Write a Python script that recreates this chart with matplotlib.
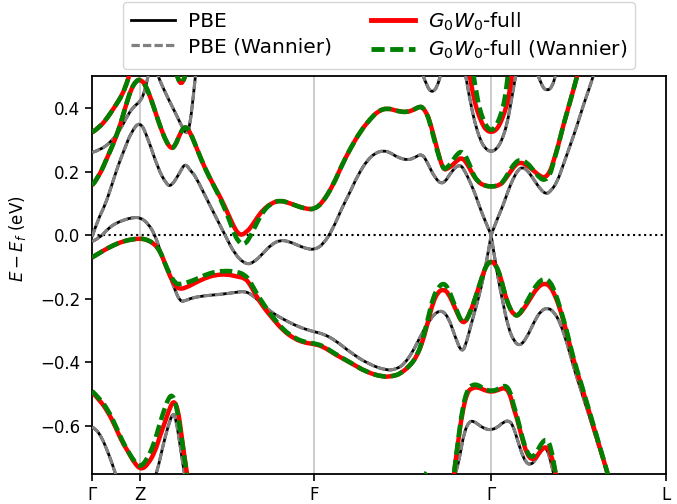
import numpy as np
import matplotlib
matplotlib.use('Agg')
import matplotlib.pyplot as plt
from matplotlib.path import Path
from matplotlib.patches import PathPatch
from matplotlib.lines import Line2D

# high symmetry points along the path (path length, arbitrary units)
kpt_pos = [0, 48, 222, 399, 574]
kpt_labels = [r'$\Gamma$', 'Z', 'F', r'$\Gamma$', 'L']

# ---------------- PBE bands (eV) ----------------
k_pbe_v1 = [0, 8, 16, 24, 33, 40, 48, 56, 63, 69, 76, 82, 88, 94, 100, 113, 129, 143, 153, 160, 168, 178, 191,
            206, 222, 231, 243, 258, 276, 295, 305, 312, 320, 328, 338, 348, 356, 363, 370, 375, 379, 384, 389,
            394, 399, 399, 405, 410, 416, 422, 428, 435, 442, 449, 456, 462, 468, 475, 481, 489, 498, 506, 515, 520]
e_pbe_v1 = [-0.02, -0.008, 0.021, 0.038, 0.049, 0.055, 0.056, 0.037, 0.0, -0.057, -0.114, -0.165, -0.21, -0.205,
            -0.197, -0.19, -0.186, -0.18, -0.176, -0.188, -0.21, -0.24, -0.264, -0.288, -0.304, -0.31, -0.33,
            -0.368, -0.405, -0.426, -0.42, -0.405, -0.37, -0.32, -0.262, -0.233, -0.255, -0.32, -0.373, -0.33,
            -0.28, -0.225, -0.165, -0.09, 0.0, 0.0, -0.12, -0.2, -0.29, -0.335, -0.349, -0.32, -0.272, -0.236,
            -0.228, -0.242, -0.275, -0.34, -0.41, -0.49, -0.577, -0.66, -0.744, -0.8]

k_pbe_c1 = [0, 6, 13, 20, 26, 33, 39, 48, 56, 66, 74, 79, 88, 93, 99, 103, 116, 133, 143, 154, 162, 171, 179, 188,
            197, 205, 214, 222, 231, 241, 249, 258, 266, 275, 283, 291, 298, 305, 316, 323, 330, 335, 343, 351,
            360, 368, 373, 378, 383, 388, 393, 399, 399, 405, 411, 416, 421, 426, 430, 435, 441, 448, 454, 459,
            465, 471, 478, 485, 491, 497, 502]
e_pbe_c1 = [-0.005, 0.05, 0.094, 0.16, 0.219, 0.275, 0.323, 0.36, 0.303, 0.209, 0.162, 0.152, 0.198, 0.227, 0.2,
            0.188, 0.105, 0.0, -0.062, -0.093, -0.085, -0.057, -0.03, -0.015, -0.02, -0.031, -0.042, -0.046,
            -0.03, 0.021, 0.08, 0.136, 0.19, 0.235, 0.258, 0.266, 0.26, 0.245, 0.235, 0.245, 0.256, 0.23, 0.178,
            0.157, 0.204, 0.224, 0.2, 0.167, 0.13, 0.084, 0.045, 0.0, 0.0, 0.05, 0.094, 0.14, 0.178, 0.205, 0.214,
            0.205, 0.178, 0.145, 0.128, 0.14, 0.167, 0.22, 0.282, 0.345, 0.407, 0.46, 0.51]

k_pbe_c2 = [0, 8, 18, 28, 36, 42, 48, 52, 56, 58]
e_pbe_c2 = [0.26, 0.268, 0.29, 0.33, 0.38, 0.405, 0.42, 0.445, 0.5, 0.53]

k_pbe_c3 = [64, 66, 70, 76, 84, 90, 95, 98, 101, 104]
e_pbe_c3 = [0.52, 0.5, 0.47, 0.43, 0.38, 0.34, 0.315, 0.35, 0.43, 0.52]

k_pbe_u1 = [330, 335, 340, 345, 349]
e_pbe_u1 = [0.51, 0.465, 0.448, 0.465, 0.51]
k_pbe_u2 = [445, 450, 455, 460, 464]
e_pbe_u2 = [0.51, 0.465, 0.454, 0.465, 0.51]

k_pbe_g = [373, 378, 383, 388, 393, 399, 405, 410, 415, 419, 424]
e_pbe_g = [0.51, 0.42, 0.35, 0.3, 0.272, 0.261, 0.272, 0.3, 0.35, 0.42, 0.51]

k_pbe_l1 = [0, 4, 9, 13, 18, 23, 26]
e_pbe_l1 = [-0.603, -0.61, -0.633, -0.66, -0.7, -0.745, -0.78]
k_pbe_l2 = [61, 65, 71, 76, 81, 84, 88, 92, 94]
e_pbe_l2 = [-0.78, -0.745, -0.66, -0.6, -0.556, -0.58, -0.66, -0.745, -0.78]
k_pbe_l3 = [360, 364, 368, 372, 377, 382, 388, 394, 399, 405, 411, 417, 421, 425, 430, 434, 438, 443, 448, 453,
            457, 461, 464]
e_pbe_l3 = [-0.78, -0.745, -0.69, -0.62, -0.585, -0.585, -0.6, -0.61, -0.612, -0.605, -0.588, -0.582, -0.6,
            -0.64, -0.69, -0.715, -0.722, -0.71, -0.68, -0.665, -0.69, -0.745, -0.78]

# ---------------- G0W0 bands (eV) ----------------
k_gw_v1 = [0, 8, 16, 26, 36, 48, 56, 63, 68, 73, 78, 83, 87, 94, 103, 113, 123, 135, 145, 153, 158, 163, 171, 180,
           191, 202, 212, 222, 231, 243, 258, 274, 291, 301, 308, 318, 325, 331, 336, 341, 346, 351, 356, 363,
           371, 378, 385, 391, 395, 399, 403, 408, 413, 418, 422, 426, 432, 438, 445, 452, 458, 463, 468, 475,
           481, 489, 498, 506, 515, 520]
e_gw_v1 = [-0.07, -0.055, -0.04, -0.025, -0.015, -0.01, -0.015, -0.03, -0.05, -0.09, -0.13, -0.158, -0.17, -0.165,
           -0.15, -0.135, -0.125, -0.123, -0.13, -0.135, -0.155, -0.185, -0.225, -0.26, -0.3, -0.325, -0.338,
           -0.342, -0.35, -0.375, -0.4, -0.43, -0.446, -0.443, -0.436, -0.41, -0.379, -0.33, -0.27, -0.21,
           -0.178, -0.17, -0.18, -0.23, -0.285, -0.245, -0.18, -0.12, -0.09, -0.082, -0.09, -0.125, -0.19,
           -0.233, -0.25, -0.254, -0.23, -0.2, -0.165, -0.15, -0.16, -0.19, -0.233, -0.31, -0.389, -0.47,
           -0.566, -0.65, -0.744, -0.8]
e_gw_v1_wan = [-0.07, -0.055, -0.04, -0.025, -0.015, -0.01, -0.015, -0.03, -0.05, -0.09, -0.125, -0.15, -0.155,
               -0.15, -0.14, -0.125, -0.115, -0.112, -0.115, -0.125, -0.145, -0.175, -0.215, -0.255, -0.297,
               -0.322, -0.336, -0.34, -0.348, -0.373, -0.4, -0.43, -0.446, -0.443, -0.436, -0.41, -0.379, -0.325,
               -0.26, -0.195, -0.165, -0.15, -0.165, -0.225, -0.285, -0.245, -0.18, -0.12, -0.09, -0.082, -0.09,
               -0.125, -0.19, -0.233, -0.25, -0.254, -0.225, -0.19, -0.152, -0.135, -0.145, -0.18, -0.228, -0.305,
               -0.385, -0.466, -0.562, -0.647, -0.744, -0.8]

k_gw_c1 = [0, 6, 16, 23, 29, 34, 39, 44, 48, 53, 59, 64, 69, 74, 79, 83, 88, 93, 98, 105, 113, 121, 129, 137,
           142, 146, 150, 154, 158, 165, 171, 179, 188, 198, 208, 216, 222, 230, 241, 249, 258, 268, 278, 286,
           295, 305, 315, 322, 328, 331, 335, 338, 345, 351, 356, 360, 365, 370, 376, 381, 386, 391, 399, 408,
           413, 418, 423, 428, 435, 441, 448, 453, 458, 461, 466, 471, 478, 485, 488]
e_gw_c1 = [0.157, 0.178, 0.25, 0.3, 0.355, 0.41, 0.459, 0.485, 0.49, 0.475, 0.428, 0.38, 0.334, 0.295, 0.271,
           0.28, 0.32, 0.344, 0.325, 0.27, 0.209, 0.16, 0.115, 0.06, 0.025, 0.005, 0.0, 0.01, 0.021, 0.055, 0.08,
           0.1, 0.11, 0.1, 0.088, 0.082, 0.082, 0.1, 0.157, 0.215, 0.271, 0.325, 0.365, 0.39, 0.4, 0.39, 0.386,
           0.395, 0.405, 0.4, 0.38, 0.355, 0.271, 0.204, 0.21, 0.219, 0.235, 0.245, 0.22, 0.188, 0.168, 0.157,
           0.152, 0.157, 0.175, 0.198, 0.22, 0.23, 0.22, 0.204, 0.185, 0.18, 0.2, 0.23, 0.28, 0.344, 0.42, 0.5,
           0.54]
e_gw_c1_wan = [0.157, 0.178, 0.25, 0.3, 0.355, 0.41, 0.459, 0.485, 0.49, 0.475, 0.428, 0.38, 0.334, 0.295,
               0.271, 0.28, 0.32, 0.344, 0.325, 0.27, 0.209, 0.16, 0.11, 0.05, 0.005, -0.018, -0.03, -0.025,
               -0.005, 0.04, 0.075, 0.1, 0.11, 0.1, 0.088, 0.082, 0.082, 0.1, 0.157, 0.215, 0.271, 0.325, 0.365,
               0.39, 0.4, 0.39, 0.386, 0.395, 0.405, 0.4, 0.38, 0.35, 0.265, 0.204, 0.215, 0.232, 0.255, 0.265,
               0.235, 0.19, 0.168, 0.157, 0.152, 0.157, 0.178, 0.205, 0.228, 0.238, 0.228, 0.205, 0.178, 0.172,
               0.19, 0.225, 0.28, 0.344, 0.42, 0.5, 0.54]

k_gw_c2 = [0, 8, 16, 24, 30, 35, 39]
e_gw_c2 = [0.323, 0.34, 0.372, 0.41, 0.44, 0.48, 0.52]

k_gw_u = [83, 86, 89, 92, 95]
e_gw_u = [0.52, 0.49, 0.474, 0.49, 0.52]

k_gw_g = [377, 381, 385, 390, 394, 399, 404, 408, 413, 417, 420]
e_gw_g = [0.51, 0.44, 0.39, 0.35, 0.33, 0.323, 0.33, 0.35, 0.39, 0.44, 0.51]
k_gw_g_wan = [381, 385, 389, 393, 396, 399, 402, 405, 409, 413, 416]
e_gw_g_wan = [0.51, 0.43, 0.38, 0.35, 0.335, 0.33, 0.335, 0.35, 0.38, 0.43, 0.51]

k_gw_l1 = [0, 8, 16, 23, 30, 36, 42, 49, 56, 63, 68, 73, 78, 82, 86, 89, 92, 95, 97]
e_gw_l1 = [-0.493, -0.52, -0.556, -0.6, -0.65, -0.68, -0.715, -0.738, -0.72, -0.68, -0.63, -0.587, -0.54,
           -0.519, -0.55, -0.618, -0.69, -0.75, -0.8]
k_gw_l1_wan = [0, 8, 16, 23, 30, 36, 42, 48, 55, 62, 67, 72, 76, 80, 84, 88, 92, 95, 97]
e_gw_l1_wan = [-0.49, -0.515, -0.55, -0.595, -0.645, -0.68, -0.71, -0.73, -0.705, -0.655, -0.6, -0.55, -0.515,
               -0.5, -0.53, -0.61, -0.69, -0.76, -0.8]

k_gw_l2 = [360, 362, 366, 370, 375, 380, 386, 392, 399, 406, 413, 418, 421, 425, 430, 435, 440, 445, 450, 455,
           459, 463, 466]
e_gw_l2 = [-0.8, -0.745, -0.65, -0.56, -0.493, -0.48, -0.478, -0.487, -0.493, -0.487, -0.478, -0.5, -0.54,
           -0.577, -0.64, -0.69, -0.707, -0.695, -0.67, -0.665, -0.69, -0.74, -0.8]
e_gw_l2_wan = [-0.8, -0.745, -0.645, -0.55, -0.485, -0.47, -0.47, -0.485, -0.49, -0.485, -0.47, -0.49, -0.53,
               -0.57, -0.635, -0.685, -0.7, -0.68, -0.65, -0.64, -0.67, -0.74, -0.8]

k_gw_l3_wan = [326, 329, 332, 335, 338]
e_gw_l3_wan = [-0.8, -0.76, -0.745, -0.76, -0.8]


def band(ax, k, e, **kw):
    # smooth curve through the sampled band energies (quadratic bezier pieces)
    pts = np.column_stack([k, e]).astype(float)
    verts = [pts[0]]
    codes = [Path.MOVETO]
    for i in range(1, len(pts) - 1):
        verts += [pts[i], (pts[i] + pts[i + 1]) / 2]
        codes += [Path.CURVE3, Path.CURVE3]
    verts.append(pts[-1])
    codes.append(Path.LINETO)
    ax.add_patch(PathPatch(Path(verts, codes), fill=False, capstyle='butt', joinstyle='round', **kw))


pbe_dash = (0, (2.6, 1.0))
gw_dash = (0, (2.7, 1.15))

fig, ax = plt.subplots(figsize=(6.77, 5.04), dpi=100)
fig.subplots_adjust(left=0.136, right=0.984, bottom=0.06, top=0.849)

for x in kpt_pos[1:-1]:
    ax.axvline(x, color='#c4c4c4', lw=1.2, zorder=0)
ax.axhline(0, color='k', ls=':', lw=1.5, zorder=1)

pbe = [(k_pbe_v1, e_pbe_v1), (k_pbe_c1, e_pbe_c1), (k_pbe_c2, e_pbe_c2), (k_pbe_c3, e_pbe_c3),
       (k_pbe_u1, e_pbe_u1), (k_pbe_u2, e_pbe_u2), (k_pbe_g, e_pbe_g),
       (k_pbe_l1, e_pbe_l1), (k_pbe_l2, e_pbe_l2), (k_pbe_l3, e_pbe_l3)]
gw = [(k_gw_v1, e_gw_v1), (k_gw_c1, e_gw_c1), (k_gw_c2, e_gw_c2), (k_gw_u, e_gw_u), (k_gw_g, e_gw_g),
      (k_gw_l1, e_gw_l1), (k_gw_l2, e_gw_l2)]
gw_wan = [(k_gw_v1, e_gw_v1_wan), (k_gw_c1, e_gw_c1_wan), (k_gw_c2, e_gw_c2), (k_gw_u, e_gw_u),
          (k_gw_g_wan, e_gw_g_wan), (k_gw_l1_wan, e_gw_l1_wan), (k_gw_l2, e_gw_l2_wan),
          (k_gw_l3_wan, e_gw_l3_wan)]

for k, e in pbe:
    band(ax, k, e, edgecolor='k', lw=2.0, zorder=2)
for k, e in pbe:
    band(ax, k, e, edgecolor='gray', lw=2.3, linestyle=pbe_dash, zorder=3)
for k, e in gw:
    band(ax, k, e, edgecolor='red', lw=3.2, zorder=4)
for k, e in gw_wan:
    band(ax, k, e, edgecolor='green', lw=3.3, linestyle=gw_dash, zorder=5)

ax.set_xlim(kpt_pos[0], kpt_pos[-1])
ax.set_ylim(-0.75, 0.5)
ax.set_xticks(kpt_pos)
ax.set_xticklabels(kpt_labels)
ax.set_yticks([-0.6, -0.4, -0.2, 0.0, 0.2, 0.4])
ax.tick_params(labelsize=12, width=1.2, length=5)
for s in ax.spines.values():
    s.set_linewidth(1.3)
ax.set_ylabel(r'$E - E_f$ (eV)', fontsize=12)
ax.yaxis.set_label_coords(-0.111, 0.59)

handles = [Line2D([], [], color='k', lw=2.0),
           Line2D([], [], color='gray', lw=2.3, ls=pbe_dash),
           Line2D([], [], color='red', lw=3.5),
           Line2D([], [], color='green', lw=3.5, ls=gw_dash)]
labels = ['PBE', 'PBE (Wannier)', r'$G_0W_0$-full', r'$G_0W_0$-full (Wannier)']
ax.legend(handles, labels, ncol=2, fontsize=14.5, loc='lower center', bbox_to_anchor=(0.5, 1.0),
          handlelength=2.2, handletextpad=0.65, columnspacing=1.9, labelspacing=0.3, borderaxespad=0.35)

fig.savefig('out.png', dpi=100)
